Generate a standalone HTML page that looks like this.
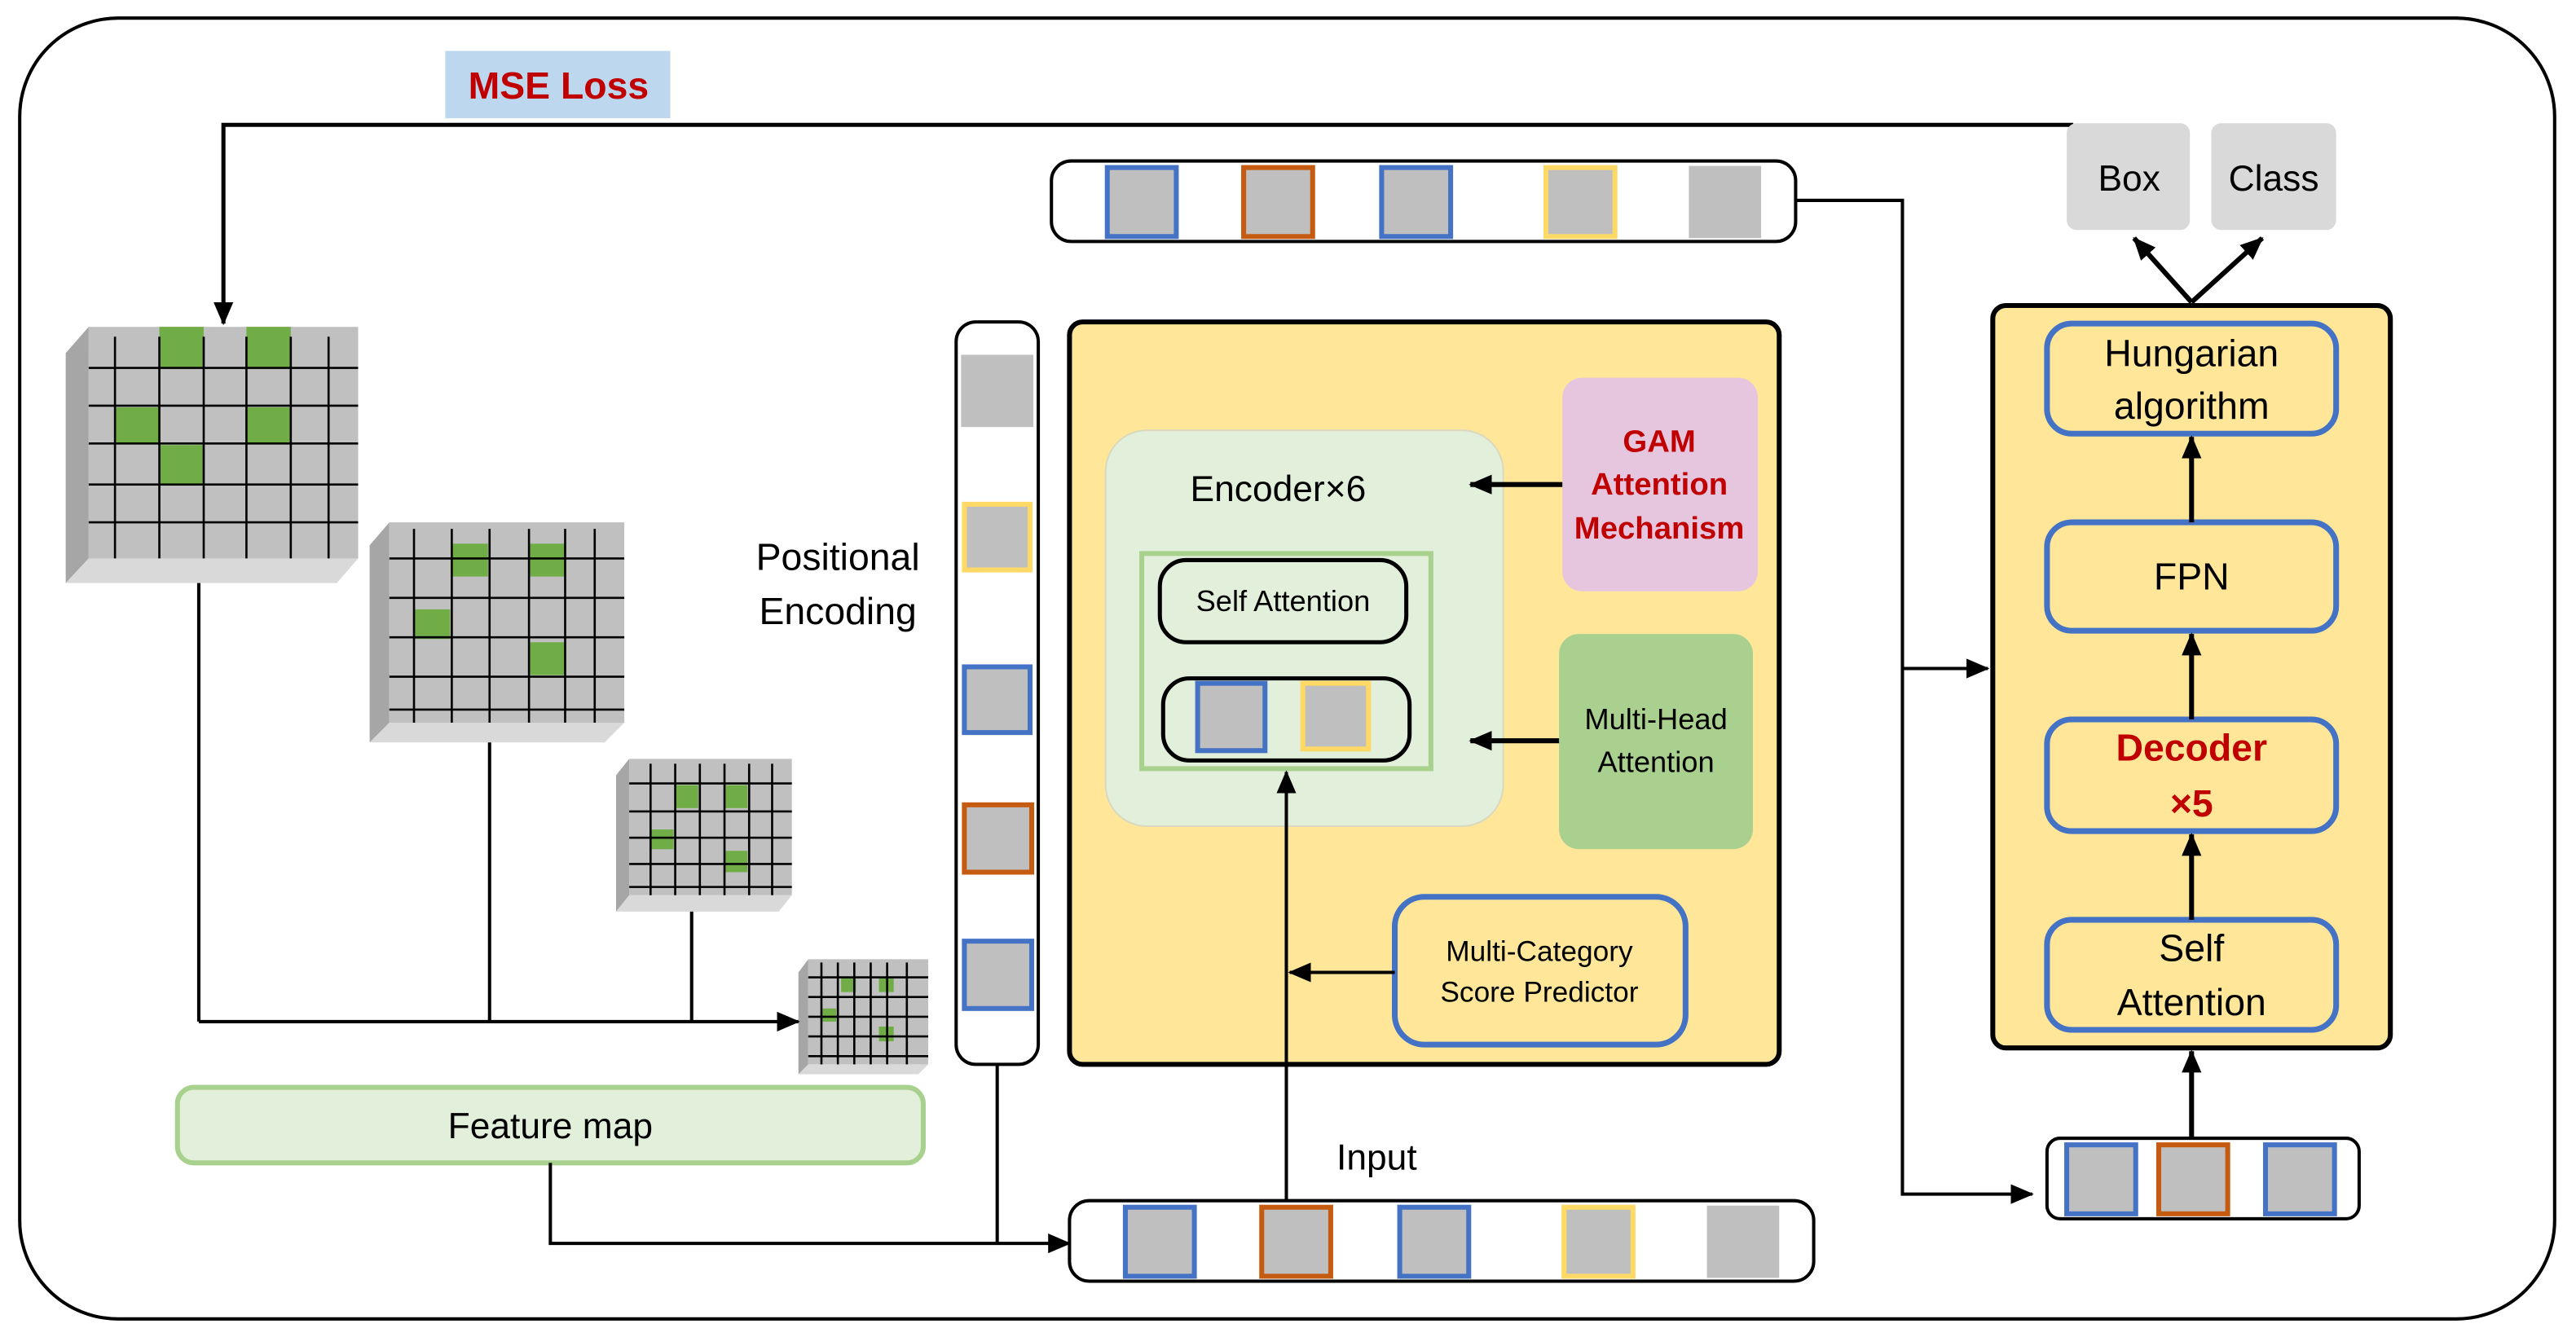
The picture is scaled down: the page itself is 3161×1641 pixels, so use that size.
<!DOCTYPE html>
<html><head><meta charset="utf-8"><style>html,body{margin:0;padding:0;background:#fff}svg{display:block}text{font-family:"Liberation Sans",sans-serif}</style></head><body>
<svg width="3161" height="1641" viewBox="0 0 1568 814" preserveAspectRatio="none" xmlns="http://www.w3.org/2000/svg">
<defs><marker id="a" markerWidth="8" markerHeight="8" refX="7" refY="4" orient="auto" markerUnits="userSpaceOnUse"><path d="M0,0 L8,4 L0,8 Z" fill="#000"/></marker>
<marker id="b" markerWidth="14" markerHeight="12" refX="13" refY="6" orient="auto" markerUnits="userSpaceOnUse"><path d="M0,0 L14,6 L0,12 Z" fill="#000"/></marker></defs>
<rect x="12" y="11" width="1543" height="792" rx="60" fill="#fff" stroke="#000" stroke-width="2"/>
<rect x="271" y="31" width="137" height="41" fill="#bdd7ee"/>
<text x="340" y="60" font-size="23" font-weight="bold" fill="#c00000" text-anchor="middle">MSE Loss</text>
<polyline points="1262,76 136,76 136,197" fill="none" stroke="#000" stroke-width="2.5" marker-end="url(#b)"/>
<rect x="1258" y="75" width="75" height="65" rx="6" fill="#d9d9d9"/>
<rect x="1346" y="75" width="76" height="65" rx="6" fill="#d9d9d9"/>
<text x="1296" y="116" font-size="22" text-anchor="middle">Box</text>
<text x="1384" y="116" font-size="22" text-anchor="middle">Class</text>
<!-- top bar -->
<rect x="640" y="98" width="453" height="49" rx="12" fill="#fff" stroke="#000" stroke-width="2"/>
<rect x="674" y="102" width="42" height="42" fill="#bfbfbf" stroke="#4472c4" stroke-width="3"/>
<rect x="757" y="102" width="42" height="42" fill="#bfbfbf" stroke="#c55a11" stroke-width="3"/>
<rect x="841" y="102" width="42" height="42" fill="#bfbfbf" stroke="#4472c4" stroke-width="3"/>
<rect x="941" y="102" width="42" height="42" fill="#bfbfbf" stroke="#ffd966" stroke-width="3"/>
<rect x="1028" y="101" width="44" height="44" fill="#bfbfbf"/>
<polyline points="1093,122 1158,122 1158,727 1237,727" fill="none" stroke="#000" stroke-width="2" marker-end="url(#b)"/>
<line x1="1158" y1="407" x2="1210" y2="407" stroke="#000" stroke-width="2" marker-end="url(#b)"/>
<!-- right panel -->
<rect x="1213" y="186" width="242" height="452" rx="8" fill="#ffe699" stroke="#000" stroke-width="3"/>
<g fill="#ffe699" stroke="#4472c4" stroke-width="3.5">
<rect x="1246" y="197" width="176" height="67" rx="15"/>
<rect x="1246" y="318" width="176" height="66" rx="15"/>
<rect x="1246" y="438" width="176" height="68" rx="15"/>
<rect x="1246" y="560" width="176" height="67" rx="15"/></g>
<text x="1334" y="223" font-size="23" text-anchor="middle">Hungarian</text>
<text x="1334" y="255" font-size="23" text-anchor="middle">algorithm</text>
<text x="1334" y="359" font-size="23" text-anchor="middle">FPN</text>
<text x="1334" y="463" font-size="23" font-weight="bold" fill="#c00000" text-anchor="middle">Decoder</text>
<text x="1334" y="497" font-size="23" font-weight="bold" fill="#c00000" text-anchor="middle">×5</text>
<text x="1334" y="585" font-size="23" text-anchor="middle">Self</text>
<text x="1334" y="618" font-size="23" text-anchor="middle">Attention</text>
<g stroke="#000" stroke-width="3">
<line x1="1334" y1="318" x2="1334" y2="266" marker-end="url(#b)"/>
<line x1="1334" y1="438" x2="1334" y2="386" marker-end="url(#b)"/>
<line x1="1334" y1="560" x2="1334" y2="508" marker-end="url(#b)"/>
<line x1="1334" y1="693" x2="1334" y2="640" marker-end="url(#b)"/>
<line x1="1334" y1="184" x2="1299" y2="145" marker-end="url(#b)"/>
<line x1="1334" y1="184" x2="1377" y2="145" marker-end="url(#b)"/></g>
<rect x="1246" y="693" width="190" height="49" rx="8" fill="#fff" stroke="#000" stroke-width="2"/>
<rect x="1258" y="697" width="42" height="42" fill="#bfbfbf" stroke="#4472c4" stroke-width="3"/>
<rect x="1314" y="697" width="42" height="42" fill="#bfbfbf" stroke="#c55a11" stroke-width="3"/>
<rect x="1379" y="697" width="42" height="42" fill="#bfbfbf" stroke="#4472c4" stroke-width="3"/>
<!-- encoder panel -->
<rect x="651" y="196" width="432" height="452" rx="8" fill="#ffe699" stroke="#000" stroke-width="3"/>
<rect x="673" y="262" width="242" height="241" rx="25" fill="#e2efda" stroke="#d9d9c0" stroke-width="1"/>
<text x="778" y="305" font-size="22" text-anchor="middle">Encoder×6</text>
<rect x="695" y="337" width="176" height="131" fill="none" stroke="#a9d18e" stroke-width="3"/>
<rect x="706" y="341" width="150" height="50" rx="16" fill="none" stroke="#000" stroke-width="2.5"/>
<text x="781" y="372" font-size="18" text-anchor="middle">Self Attention</text>
<rect x="708" y="413" width="150" height="50" rx="16" fill="none" stroke="#000" stroke-width="2.5"/>
<rect x="729" y="416" width="41" height="41" fill="#bfbfbf" stroke="#4472c4" stroke-width="3"/>
<rect x="793" y="416" width="40" height="40" fill="#bfbfbf" stroke="#ffd966" stroke-width="3"/>
<rect x="951" y="230" width="119" height="130" rx="12" fill="#e6c6df"/>
<text x="1010" y="275" font-size="19" font-weight="bold" fill="#c00000" text-anchor="middle">GAM</text>
<text x="1010" y="301" font-size="19" font-weight="bold" fill="#c00000" text-anchor="middle">Attention</text>
<text x="1010" y="328" font-size="19" font-weight="bold" fill="#c00000" text-anchor="middle">Mechanism</text>
<rect x="949" y="386" width="118" height="131" rx="12" fill="#a9d08e"/>
<text x="1008" y="444" font-size="18" text-anchor="middle">Multi-Head</text>
<text x="1008" y="470" font-size="18" text-anchor="middle">Attention</text>
<rect x="849" y="546" width="177" height="90" rx="18" fill="#ffe699" stroke="#4472c4" stroke-width="3.5"/>
<text x="937" y="585" font-size="17.5" text-anchor="middle">Multi-Category</text>
<text x="937" y="610" font-size="17.5" text-anchor="middle">Score Predictor</text>
<g stroke="#000" stroke-width="3">
<line x1="951" y1="295" x2="895" y2="295" marker-end="url(#b)"/>
<line x1="949" y1="451" x2="895" y2="451" marker-end="url(#b)"/></g>
<line x1="849" y1="592" x2="785" y2="592" stroke="#000" stroke-width="2" marker-end="url(#b)"/>
<line x1="783" y1="731" x2="783" y2="470" stroke="#000" stroke-width="2" marker-end="url(#b)"/>
<!-- positional -->
<rect x="582" y="196" width="50" height="452" rx="12" fill="#fff" stroke="#000" stroke-width="2"/>
<rect x="585" y="216" width="44" height="44" fill="#bfbfbf"/>
<rect x="587" y="307" width="40" height="40" fill="#bfbfbf" stroke="#ffd966" stroke-width="3"/>
<rect x="587" y="406" width="40" height="40" fill="#bfbfbf" stroke="#4472c4" stroke-width="3"/>
<rect x="587" y="490" width="41" height="41" fill="#bfbfbf" stroke="#c55a11" stroke-width="3"/>
<rect x="587" y="573" width="41" height="41" fill="#bfbfbf" stroke="#4472c4" stroke-width="3"/>
<text x="510" y="347" font-size="23" text-anchor="middle">Positional</text>
<text x="510" y="380" font-size="23" text-anchor="middle">Encoding</text>
<line x1="607" y1="648" x2="607" y2="757" stroke="#000" stroke-width="2"/>
<!-- input -->
<rect x="651" y="731" width="453" height="49" rx="12" fill="#fff" stroke="#000" stroke-width="2"/>
<rect x="685" y="735" width="42" height="42" fill="#bfbfbf" stroke="#4472c4" stroke-width="3"/>
<rect x="768" y="735" width="42" height="42" fill="#bfbfbf" stroke="#c55a11" stroke-width="3"/>
<rect x="852" y="735" width="42" height="42" fill="#bfbfbf" stroke="#4472c4" stroke-width="3"/>
<rect x="952" y="735" width="42" height="42" fill="#bfbfbf" stroke="#ffd966" stroke-width="3"/>
<rect x="1039" y="734" width="44" height="44" fill="#bfbfbf"/>
<text x="838" y="712" font-size="22" text-anchor="middle">Input</text>
<rect x="108" y="662" width="454" height="46" rx="10" fill="#e2efda" stroke="#a9d18e" stroke-width="3"/>
<text x="335" y="693" font-size="22" text-anchor="middle">Feature map</text>
<polyline points="335,708 335,757 651,757" fill="none" stroke="#000" stroke-width="2" marker-end="url(#b)"/>
<!-- grids -->
<g stroke="none">
<polygon points="40,215 54,199 54,340 40,355" fill="#a6a6a6"/><polygon points="40,355 54,340 218,340 205,355" fill="#d9d9d9"/><rect x="54" y="199" width="164" height="141" fill="#c0c0c0"/>
<polygon points="225,332 237,318 237,440 225,452" fill="#a6a6a6"/><polygon points="225,452 237,440 380,440 368,452" fill="#d9d9d9"/><rect x="237" y="318" width="143" height="122" fill="#c0c0c0"/>
<polygon points="375,472 383,462 383,545 375,555" fill="#a6a6a6"/><polygon points="375,555 383,545 482,545 474,555" fill="#d9d9d9"/><rect x="383" y="462" width="99" height="83" fill="#c0c0c0"/>
<polygon points="486,592 492,584 492,648 486,654" fill="#a6a6a6"/><polygon points="486,654 492,648 565,648 559,654" fill="#d9d9d9"/><rect x="492" y="584" width="73" height="64" fill="#c0c0c0"/>
</g>
<g fill="#70ad47">
<rect x="97" y="199" width="27" height="25"/><rect x="150" y="199" width="27" height="25"/><rect x="70" y="248" width="27" height="22"/><rect x="150" y="248" width="27" height="22"/><rect x="97" y="271" width="27" height="24"/>
<rect x="275" y="331" width="22" height="20"/><rect x="322" y="331" width="22" height="20"/><rect x="252" y="371" width="22" height="18"/><rect x="322" y="391" width="22" height="20"/>
<rect x="411" y="478" width="14" height="14"/><rect x="441" y="478" width="14" height="14"/><rect x="396" y="505" width="14" height="12"/><rect x="441" y="518" width="14" height="13"/>
<rect x="512" y="595" width="9" height="9"/><rect x="535" y="595" width="9" height="9"/><rect x="500" y="614" width="9" height="8"/><rect x="535" y="625" width="9" height="9"/>
</g>
<g stroke="#000" stroke-width="1.3">
<path d="M70,205V340M97,205V340M124,205V340M150,205V340M177,205V340M200,205V340M54,224H218M54,247H218M54,270H218M54,295H218M54,318H218"/>
<path d="M252,322V440M275,322V440M298,322V440M322,322V440M344,322V440M362,322V440M237,340H380M237,364H380M237,388H380M237,412H380M237,432H380"/>
<path d="M396,465V545M411,465V545M426,465V545M441,465V545M456,465V545M470,465V545M383,477H482M383,494H482M383,510H482M383,526H482M383,540H482"/>
<path d="M500,586V648M510,586V648M520,586V648M530,586V648M540,586V648M552,586V648M492,595H565M492,607H565M492,619H565M492,631H565M492,643H565"/>
</g>
<g stroke="#000" stroke-width="2" fill="none">
<line x1="121" y1="355" x2="121" y2="622"/><line x1="298" y1="452" x2="298" y2="622"/><line x1="421" y1="555" x2="421" y2="622"/>
<line x1="121" y1="622" x2="486" y2="622" marker-end="url(#b)"/></g>
</svg>
</body></html>
